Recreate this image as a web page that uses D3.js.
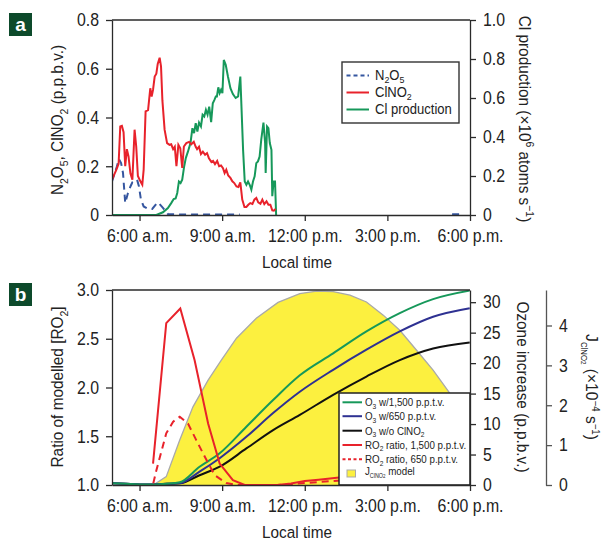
<!DOCTYPE html>
<html><head><meta charset="utf-8">
<script src="https://cdn.jsdelivr.net/npm/d3@7"></script>
<style>
body{margin:0;background:#fff;}
svg{display:block;font-family:"Liberation Sans",Arial,Helvetica,sans-serif;}
</style></head>
<body><svg id="c" width="606" height="541"></svg>
<script>
// ---------- DATA ----------
const xTickValues = [6, 9, 12, 15, 18];
const xTickLabels = ["6:00 a.m.", "9:00 a.m.", "12:00 p.m.", "3:00 p.m.", "6:00 p.m."];
const aLeftTicks = [0, 0.2, 0.4, 0.6, 0.8];
const aRightTicks = [0, 0.2, 0.4, 0.6, 0.8, 1.0];
const bLeftTicks = [1.0, 1.5, 2.0, 2.5, 3.0];
const bOzoneTicks = [0, 5, 10, 15, 20, 25, 30];
const bJTicks = [0, 1, 2, 3, 4];

// panel a: [hour, p.p.b.v.]
const n2o5 = [[5.0,0.138],[5.1,0.172],[5.18,0.2],[5.25,0.23],[5.33,0.213],[5.4,0.172],[5.48,0.049],[5.58,0.09],[5.67,0.117],[5.74,0.134],[5.82,0.138],[5.91,0.145],[5.98,0.117],[6.05,0.063],[6.15,0.035],[6.31,0.025],[6.46,0.025],[6.61,0.046],[6.67,0.052],[6.85,0.029],[7.03,0.004],[7.5,0.002],[8.0,0.002],[8.5,0.002],[9.0,0.002],[9.64,0.002],[9.7,null],[17.35,0.003],[17.65,0.003]];
const clno2 = [[5.0,0.145],[5.16,0.186],[5.24,0.21],[5.3,0.363],[5.36,0.366],[5.42,0.34],[5.48,0.2],[5.54,0.27],[5.6,0.24],[5.67,0.17],[5.74,0.145],[5.82,0.35],[5.88,0.28],[5.94,0.16],[6.03,0.138],[6.1,0.124],[6.15,0.186],[6.22,0.425],[6.31,0.43],[6.39,0.52],[6.44,0.486],[6.49,0.513],[6.55,0.568],[6.61,0.58],[6.66,0.62],[6.73,0.645],[6.78,0.61],[6.83,0.47],[6.91,0.35],[7.0,0.295],[7.09,0.288],[7.15,0.29],[7.22,0.27],[7.28,0.28],[7.34,0.2],[7.41,0.288],[7.48,0.274],[7.55,0.193],[7.61,0.281],[7.7,0.295],[7.8,0.3],[7.88,0.29],[7.97,0.3],[8.04,0.28],[8.09,0.27],[8.16,0.28],[8.23,0.25],[8.3,0.26],[8.38,0.247],[8.45,0.254],[8.52,0.233],[8.61,0.217],[8.67,0.222],[8.74,0.209],[8.82,0.222],[8.89,0.2],[8.96,0.203],[9.03,0.192],[9.09,0.172],[9.15,0.186],[9.22,0.162],[9.3,0.152],[9.37,0.138],[9.44,0.131],[9.52,0.117],[9.59,0.115],[9.66,0.134],[9.73,0.063],[9.81,0.033],[9.88,0.033],[9.95,0.042],[10.02,0.049],[10.1,0.045],[10.17,0.063],[10.24,0.07],[10.31,0.052],[10.39,0.046],[10.46,0.063],[10.53,0.045],[10.61,0.056],[10.68,0.042],[10.75,0.042],[10.82,0.019],[10.88,0.018],[10.94,0.025]];
// panel a: [hour, x10^6 atoms s^-1]
const clProd = [[5.0,0],[6.25,0],[6.61,0],[6.85,0.014],[7.03,0.036],[7.15,0.061],[7.24,0.082],[7.31,0.085],[7.37,0.113],[7.43,0.172],[7.49,0.164],[7.55,0.181],[7.62,0.249],[7.68,0.292],[7.76,0.326],[7.85,0.369],[7.92,0.445],[7.98,0.42],[8.04,0.471],[8.1,0.428],[8.16,0.474],[8.23,0.454],[8.29,0.514],[8.35,0.505],[8.41,0.539],[8.47,0.514],[8.53,0.556],[8.6,0.476],[8.66,0.573],[8.72,0.59],[8.77,0.608],[8.81,0.608],[8.86,0.655],[8.91,0.625],[8.96,0.642],[9.01,0.625],[9.06,0.795],[9.13,0.77],[9.21,0.71],[9.3,0.65],[9.39,0.62],[9.49,0.6],[9.58,0.608],[9.66,0.71],[9.76,0.334],[9.82,0.172],[9.88,0.155],[9.94,0.172],[10.0,0.155],[10.06,0.13],[10.12,0.172],[10.18,0.198],[10.24,0.266],[10.3,0.275],[10.36,0.3],[10.42,0.386],[10.5,0.474],[10.56,0.369],[10.58,0.215],[10.63,0.454],[10.68,0.445],[10.73,0.369],[10.79,0.334],[10.82,0.096],[10.87,0.172],[10.92,0.172],[10.96,0]];

// panel b: RO2 ratio
const ro2r1500 = [[6.49,1.22],[6.97,2.66],[7.48,2.81],[8.0,2.28],[8.49,1.63],[8.91,1.22],[9.39,1.05],[9.82,1.0],[10.5,1.0],[11.0,1.0],[11.5,1.015],[12.0,1.04],[12.5,1.055],[13.0,1.07],[13.5,1.085]];
const ro2r650 = [[6.5,1.017],[6.61,1.15],[6.97,1.53],[7.22,1.65],[7.46,1.7],[7.76,1.63],[8.06,1.46],[8.37,1.29],[8.73,1.1],[9.15,1.02],[9.52,1.0],[11.0,1.0],[12.0,1.02],[13.0,1.04],[13.5,1.05]];
// panel b: ozone increase (p.p.b.v.)
const o3w1500 = [[5.0,0.3],[5.5,0.2],[6.0,0.1],[6.5,0.1],[7.0,0.2],[7.46,0.44],[8.18,3.0],[8.91,5.2],[9.88,9.57],[10.85,13.95],[11.82,18.0],[13.03,21.6],[14.24,25.2],[15.45,28.2],[16.66,30.5],[17.99,31.9]];
const o3w650 = [[5.0,0.3],[5.5,0.2],[6.0,0.1],[6.5,0.1],[7.0,0.2],[7.46,0.3],[8.18,2.2],[8.91,4.4],[9.88,7.9],[10.85,11.8],[11.82,15.3],[13.03,18.9],[14.24,22.2],[15.45,25.2],[16.66,27.6],[17.99,29.0]];
const o3wo = [[5.0,0.3],[5.5,0.2],[6.0,0.1],[6.5,0.1],[7.0,0.2],[7.46,0.27],[8.18,1.6],[8.91,3.0],[9.88,6.0],[10.85,9.0],[11.82,11.5],[13.03,14.8],[14.24,17.8],[15.45,20.5],[16.66,22.4],[17.99,23.4]];
// panel b: J_ClNO2 model (x10^-4 s^-1)
const jclno2 = [[6.5,0],[6.97,0.21],[7.46,1.13],[7.94,1.96],[8.49,2.63],[8.97,3.13],[9.52,3.68],[10.24,4.18],[11.03,4.58],[11.82,4.8],[12.43,4.86],[13.03,4.85],[13.64,4.76],[14.24,4.59],[14.85,4.26],[15.45,3.88],[16.06,3.38],[16.66,2.88],[17.27,2.3],[17.6,1.95],[18.0,1.55]];

// ---------- DRAW ----------
const svg = d3.select("#c");
const C = {red:"#e8222b", green:"#16985a", blueDash:"#3556a0", navy:"#2e3192", black:"#111",
  yellow:"#fcf03f", axis:"#2a2a2a", text:"#222", panel:"#0d4a2b"};
const L = 112, R = 470;
const x = d3.scaleLinear().domain([5, 18]).range([L, R]);

// horizontal condensing of a text about its own anchor point
function squeeze(sel, s) {
  sel.each(function() {
    const t = d3.select(this);
    const tx = +t.attr("x") || 0, ty = +t.attr("y") || 0;
    const prev = t.attr("transform") || "";
    t.attr("transform", `${prev} translate(${tx},${ty}) scale(${s},1) translate(${-tx},${-ty})`);
  });
  return sel;
}

function rich(sel, parts, size, subK = 0.3, supK = 0.42) {
  let prev = 0;
  parts.forEach(p => {
    const t = typeof p === "string" ? {t:p} : p;
    const shift = t.sub ? size*subK : t.sup ? -size*supK : 0;
    const ts = sel.append("tspan").text(t.t).attr("dy", shift - prev);
    if (t.sub || t.sup) ts.attr("font-size", (t.fs || 0.68) * size);
    prev = shift;
  });
}

const TICK_FS = 18, TICK_SX = 0.88, TITLE_FS = 16.5, TITLE_SX = 0.93;

function styleAxis(g) {
  g.select(".domain").attr("stroke", C.axis).attr("stroke-width", 1.3);
  g.selectAll(".tick line").attr("stroke", C.axis).attr("stroke-width", 1.3);
  g.selectAll(".tick text").attr("fill", C.text).attr("font-size", TICK_FS).attr("font-family", null);
  squeeze(g.selectAll(".tick text"), TICK_SX);
}

function panelLabel(y0, letter) {
  svg.append("rect").attr("x", 9).attr("y", y0).attr("width", 23).attr("height", 23).attr("fill", C.panel);
  svg.append("text").attr("x", 20.5).attr("y", y0 + 18).attr("text-anchor", "middle")
    .attr("fill", "#fff").attr("font-weight", "bold").attr("font-size", 19).text(letter);
}

function xAxis(yb) {
  const g = svg.append("g").attr("transform", `translate(0,${yb})`)
    .call(d3.axisBottom(x).tickValues(xTickValues).tickFormat((d,i)=>xTickLabels[i]).tickSize(6).tickSizeOuter(0).tickPadding(8));
  styleAxis(g);
  squeeze(svg.append("text").attr("x", (L+R)/2 + 6).attr("y", yb + 53).attr("text-anchor", "middle")
    .attr("font-size", TITLE_FS).attr("fill", C.text).text("Local time"), TITLE_SX);
}

function title(tx, ty, rot, parts, fs, sx, subK, supK) {
  const t = svg.append("text").attr("transform", `translate(${tx},${ty}) rotate(${rot}) scale(${sx},1)`)
    .attr("text-anchor", "middle").attr("font-size", fs).attr("fill", C.text);
  rich(t, parts, fs, subK, supK);
  return t;
}

// ===== Panel a =====
const aT = 20, aB = 215;
const yA = d3.scaleLinear().domain([0, 0.8]).range([aB, aT]);
const yA2 = d3.scaleLinear().domain([0, 1]).range([aB, aT]);
const defs = svg.append("defs");
defs.append("clipPath").attr("id", "clipA").append("rect")
  .attr("x", L).attr("y", aT).attr("width", R-L).attr("height", aB-aT+2);

const la = d3.line().defined(d => d[1] !== null).x(d => x(d[0]));
const gA = svg.append("g").attr("clip-path", "url(#clipA)");
gA.append("path").datum(clProd).attr("d", la.y(d => yA2(d[1]))).attr("fill","none").attr("stroke", C.green).attr("stroke-width", 2);
gA.append("path").datum(n2o5).attr("d", la.y(d => yA(d[1]))).attr("fill","none").attr("stroke", C.blueDash).attr("stroke-width", 2).attr("stroke-dasharray", "7,5");
gA.append("path").datum(clno2).attr("d", la.y(d => yA(d[1]))).attr("fill","none").attr("stroke", C.red).attr("stroke-width", 2);

svg.append("line").attr("x1", L).attr("x2", R).attr("y1", aT).attr("y2", aT).attr("stroke", C.axis).attr("stroke-width", 1.3);
styleAxis(svg.append("g").attr("transform", `translate(${L},0)`)
  .call(d3.axisLeft(yA).tickValues(aLeftTicks).tickFormat(d => d === 0 ? "0" : d3.format(".1f")(d)).tickSize(6).tickSizeOuter(0).tickPadding(7)));
styleAxis(svg.append("g").attr("transform", `translate(${R},0)`)
  .call(d3.axisRight(yA2).tickValues(aRightTicks).tickFormat(d => d === 0 ? "0" : d3.format(".1f")(d)).tickSize(6).tickSizeOuter(0).tickPadding(7)));
xAxis(aB);

title(63, 120, -90, ["N", {t:"2",sub:true}, "O", {t:"5",sub:true}, ", ClNO", {t:"2",sub:true}, " (p.p.b.v.)"], TITLE_FS, TITLE_SX);
title(519, 119, 90, ["Cl production (\u00d710", {t:"6",sup:true}, " atoms s", {t:"\u22121",sup:true}, ")"], TITLE_FS, TITLE_SX);

// legend a
const legA = svg.append("g");
legA.append("rect").attr("x", 342).attr("y", 62).attr("width", 117).attr("height", 61).attr("fill", "#fff").attr("stroke", "#333").attr("stroke-width", 1.4);
const legAItems = [
  {parts:["N", {t:"2",sub:true}, "O", {t:"5",sub:true}], color:C.blueDash, dash:"4,3", y:75.5},
  {parts:["ClNO", {t:"2",sub:true}], color:C.red, dash:null, y:92.5},
  {parts:["Cl production"], color:C.green, dash:null, y:109.5}
];
legAItems.forEach(it => {
  legA.append("line").attr("x1", 346.5).attr("x2", 369).attr("y1", it.y).attr("y2", it.y)
    .attr("stroke", it.color).attr("stroke-width", 2).attr("stroke-dasharray", it.dash);
  const t = legA.append("text").attr("x", 375).attr("y", it.y + 5).attr("font-size", 14.5).attr("fill", C.text);
  rich(t, it.parts, 14.5, 0.2);
  squeeze(t, 0.9);
});
panelLabel(13, "a");

// ===== Panel b =====
const bT = 290, bB = 485;
const yB = d3.scaleLinear().domain([1, 3]).range([bB, bT]);
const yOz = d3.scaleLinear().domain([0, 32]).range([bB, bT]);
const yJ = d3.scaleLinear().domain([0, 4.89]).range([bB, bT]);
defs.append("clipPath").attr("id", "clipB").append("rect")
  .attr("x", L).attr("y", bT).attr("width", R-L).attr("height", bB-bT);

const gB = svg.append("g").attr("clip-path", "url(#clipB)");
gB.append("path").datum(jclno2).attr("d", d3.area().x(d => x(d[0])).y0(bB).y1(d => yJ(d[1]))).attr("fill", C.yellow);
gB.append("path").datum(jclno2).attr("d", d3.line().x(d => x(d[0])).y(d => yJ(d[1]))).attr("fill", "none").attr("stroke", "#a9a9a9").attr("stroke-width", 1.3);
const lb = d3.line().x(d => x(d[0])).curve(d3.curveMonotoneX);
gB.append("path").datum(o3wo).attr("d", lb.y(d => yOz(d[1]))).attr("fill","none").attr("stroke", C.black).attr("stroke-width", 2);
gB.append("path").datum(o3w650).attr("d", lb.y(d => yOz(d[1]))).attr("fill","none").attr("stroke", C.navy).attr("stroke-width", 2);
gB.append("path").datum(o3w1500).attr("d", lb.y(d => yOz(d[1]))).attr("fill","none").attr("stroke", C.green).attr("stroke-width", 2);
const lr = d3.line().x(d => x(d[0]));
gB.append("path").datum(ro2r650).attr("d", lr.y(d => yB(d[1]))).attr("fill","none").attr("stroke", C.red).attr("stroke-width", 2).attr("stroke-dasharray", "7,5");
gB.append("path").datum(ro2r1500).attr("d", lr.y(d => yB(d[1]))).attr("fill","none").attr("stroke", C.red).attr("stroke-width", 2);

// legend b
const legB = svg.append("g");
legB.append("rect").attr("x", 339).attr("y", 393).attr("width", 131).attr("height", 92).attr("fill", "#fff").attr("stroke", "#222").attr("stroke-width", 1.5);
const legBItems = [
  {parts:["O", {t:"3",sub:true}, " w/1,500 p.p.t.v."], color:C.green, y:402.3},
  {parts:["O", {t:"3",sub:true}, " w/650 p.p.t.v."], color:C.navy, y:416.2},
  {parts:["O", {t:"3",sub:true}, " w/o ClNO", {t:"2",sub:true}], color:C.black, y:430.7},
  {parts:["RO", {t:"2",sub:true}, " ratio, 1,500 p.p.t.v."], color:C.red, y:445},
  {parts:["RO", {t:"2",sub:true}, " ratio, 650 p.p.t.v."], color:C.red, dash:"3,2.5", y:459.3},
];
legBItems.forEach(it => {
  legB.append("line").attr("x1", 342.5).attr("x2", 362).attr("y1", it.y).attr("y2", it.y)
    .attr("stroke", it.color).attr("stroke-width", 2).attr("stroke-dasharray", it.dash || null);
  const t = legB.append("text").attr("x", 365).attr("y", it.y + 4.2).attr("font-size", 11.5).attr("fill", C.text);
  rich(t, it.parts, 11.5, 0.2);
  squeeze(t, 0.85);
});
legB.append("rect").attr("x", 347).attr("y", 470).attr("width", 8.5).attr("height", 7).attr("fill", C.yellow).attr("stroke", "#a9a9a9").attr("stroke-width", 1);
const tJ = legB.append("text").attr("x", 365).attr("y", 475.5).attr("font-size", 11.5).attr("fill", C.text);
rich(tJ, ["J", {t:"ClNO",sub:true,fs:0.55}, {t:"2",sub:true,fs:0.45}, " model"], 11.5, 0.2);
squeeze(tJ, 0.85);

svg.append("line").attr("x1", L).attr("x2", R).attr("y1", bT).attr("y2", bT).attr("stroke", C.axis).attr("stroke-width", 1.3);
styleAxis(svg.append("g").attr("transform", `translate(${L},0)`)
  .call(d3.axisLeft(yB).tickValues(bLeftTicks).tickFormat(d3.format(".1f")).tickSize(6).tickSizeOuter(0).tickPadding(7)));
styleAxis(svg.append("g").attr("transform", `translate(${R},0)`)
  .call(d3.axisRight(yOz).tickValues(bOzoneTicks).tickFormat(d3.format("d")).tickSize(6).tickSizeOuter(0).tickPadding(7)));
const axJ = svg.append("g").attr("transform", `translate(546,0)`)
  .call(d3.axisRight(yJ).tickValues(bJTicks).tickFormat(d3.format("d")).tickSize(6).tickSizeOuter(0).tickPadding(7));
styleAxis(axJ);
axJ.select(".domain").attr("stroke", "#555");
axJ.selectAll(".tick line").attr("stroke", "#555");
xAxis(bB);

title(63, 387, -90, ["Ratio of modelled [RO", {t:"2",sub:true}, "]"], TITLE_FS, TITLE_SX);
title(517, 387, 90, ["Ozone increase (p.p.b.v.)"], TITLE_FS, TITLE_SX);
title(586, 387, 90, ["J", {t:"ClNO",sub:true,fs:0.5}, {t:"2",sub:true,fs:0.4}, " (\u00d710", {t:"\u22124",sup:true,fs:0.62}, " s", {t:"\u22121",sup:true,fs:0.62}, ")"], 17, 0.92, 0.3, 0.33);
panelLabel(283, "b");
</script></body></html>
